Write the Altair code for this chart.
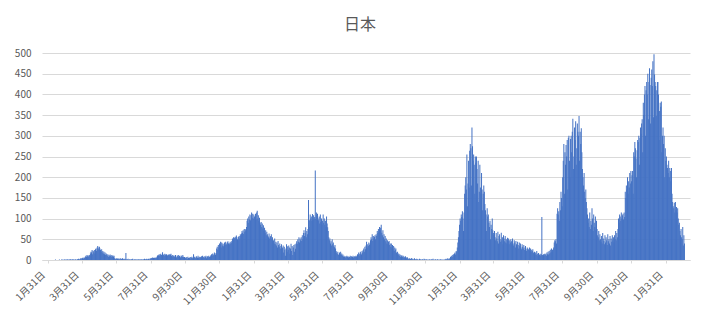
import altair as alt
import pandas as pd

# Daily deaths, Japan
jan2020 = [0, 0, 0]  # from Jan 29
feb2020 = [0,0,0,0,0,0,0,0,0,0, 0,0,1,0,0,0,0,0,0,1, 0,0,0,1,1,0,0,1,1]
mar2020 = [0,1,0,1,2,0,1,0,1,1, 2,0,1,2,0,1,1,0,2,1, 0,1,2,1,3,2,1,3,4,2, 5]
apr2020 = [4,6,3,5,6,8,10,7,12,9, 11,8,12,10,16,20,18,24,14,22, 19,24,16,26,28,22,30,34,26,30]
may2020 = [32,28,24,20,26,18,22,16,20,14, 18,12,16,13,10,14,8,12,9,13, 10,8,12,9,11,8,10,4,3,2, 4]
jun2020 = [2,3,4,2,3,1,4,2,3,2, 4,3,2,1,3,2,17,1,2,1, 3,0,1,2,1,0,2,1,3,1]
jul2020 = [0,1,2,1,0,1,2,0,1,2, 1,0,1,2,1,0,2,1,1,3, 2,1,2,3,1,2,3,2,1,4, 3]
aug2020 = [4,5,6,4,5,6,5,4,6,5, 8,10,12,11,14,10,13,15,12,11, 19,14,12,10,15,13,11,14,12,10, 13]
sep2020 = [12,14,11,13,15,10,8,12,9,11, 7,10,12,8,6,11,9,12,7,10, 8,6,11,9,7,12,8,5,7,4]
oct2020 = [6,4,7,3,8,5,4,6,3,7, 5,8,4,6,14,5,8,6,4,9, 7,5,10,6,4,8,7,5,9,6, 10]
nov2020 = [6,8,5,9,7,10,4,8,9,6, 10,7,8,9,12,14,10,16,13,11, 18,15,12,17,28,32,25,36,30,40]
dec2020 = [38,44,30,42,35,40,33,38,42,36, 44,40,37,43,45,39,41,38,44,40, 42,46,52,48,55,50,54,56,52,59, 55]
jan2021 = [50,48,56,58,52,62,59,64,70,66, 72,63,75,68,74,70,80,95,100,90, 105,98,110,96,108,115,102,112,100,110, 104]
feb2021 = [106,112,98,115,119,100,108,95,102,90, 85,92,80,88,76,84,70,78,65,72, 60,68,62,58,55,64,52,56]
mar2021 = [58,62,50,55,45,48,40,52,38,44, 35,42,30,46,36,32,40,28,34,38, 27,30,35,18,32,25,10,28,38,20, 33]
apr2021 = [25,35,30,15,28,39,22,34,12,30, 36,20,38,27,40,45,39,50,44,55, 42,52,48,55,46,60,50,65,72,58]
may2021 = [65,79,55,70,62,75,145,80,96,110, 100,105,95,111,98,108,100,104,216,99, 115,108,112,100,96,105,88,110,92,100, 85]
jun2021 = [95,110,90,100,85,95,80,105,88,79, 70,55,48,52,40,45,35,50,38,42, 33,31,36,28,22,18,15,20,12,14]
jul2021 = [18,14,20,12,16,10,13,8,10,7, 9,6,8,10,7,9,6,8,7,10, 6,9,8,7,10,6,8,9,7,10, 8]
aug2021 = [10,14,12,18,15,11,20,16,13,22, 18,24,28,20,32,26,35,44,30,38, 34,42,36,40,48,55,50,62,46,58, 52]
sep2021 = [56,60,50,62,58,70,65,75,68,80, 72,78,85,66,60,72,55,62,50,58, 45,52,40,48,38,44,46,36,40,32]
oct2021 = [40,30,36,26,34,22,30,25,28,18, 15,20,12,16,10,14,8,12,9,11, 7,10,6,8,5,9,6,4,7,5, 3]
nov2021 = [2,4,1,3,2,5,1,3,2,0, 4,1,2,0,3,1,2,0,1,3, 0,2,1,0,2,1,0,3,1,2]
dec2021 = [0,1,2,0,1,0,2,1,0,1, 2,0,1,3,0,1,0,2,1,0, 1,2,0,1,0,1,2,0,1,0, 1]
jan2022 = [0,1,0,2,1,3,1,2,4,1, 3,2,5,8,6,10,7,12,14,9, 16,18,13,22,20,30,42,55,70,85, 100]
feb2022 = [95,110,104,118,100,70,115,160,180,200, 170,255,130,185,240,175,264,280,270,180, 320,275,240,255,230,160,250,235]
mar2022 = [250,220,185,240,140,165,230,175,160,210, 170,120,160,180,165,135,120,110,70,125, 105,110,90,80,95,50,85,75,100,72, 65]
apr2022 = [60,70,55,48,65,52,45,68,40,58, 62,50,44,66,48,55,38,60,52,45, 58,42,50,40,54,46,52,38,48,42]
may2022 = [50,45,38,52,40,35,48,42,30,46, 38,32,44,36,28,42,34,40,30,26, 38,32,28,36,24,30,34,26,22,30, 28]
jun2022 = [26,24,30,22,28,20,25,22,26,18, 16,20,14,18,12,22,15,10,17,13, 12,15,11,14,104,12,10,14,11,15]
jul2022 = [12,15,10,18,14,20,13,22,16,25, 18,28,20,24,26,30,42,48,45,50, 40,112,125,110,118,95,140,120,165,150, 130]
aug2022 = [200,240,280,160,260,230,278,250,290,170, 295,300,240,200,292,300,260,310,341,220, 250,320,290,335,230,270,330,310,300,348, 240]
sep2022 = [310,280,318,260,220,200,180,210,165,150, 170,140,125,110,90,100,80,115,75,95, 85,125,100,70,110,90,80,105,72,95]
oct2022 = [75,60,55,70,48,62,50,44,58,40, 65,52,46,38,60,42,55,48,36,62, 45,50,40,58,35,52,44,60,48,55, 42]
nov2022 = [60,50,70,48,65,55,75,100,90,110, 105,95,115,100,108,112,98,115,104,165, 150,180,170,200,160,190,175,210,185,215]
dec2022 = [190,205,215,160,260,250,285,270,245,200, 265,290,285,300,230,295,320,305,330,340, 260,380,350,400,420,300,410,430,400,450, 340]
jan2023 = [430,463,423,330,440,460,420,480,345,497, 448,430,420,348,410,430,430,400,290,360, 380,370,383,260,300,320,280,300,200,270, 240]
feb2023 = [250,230,222,210,240,200,222,215,190,222, 160,140,130,125,138,115,140,120,128,115, 125,100,85,90,70,60,75,55]
mar2023 = [50,80,35,60,40]

month_blocks = [
    ("2020-01-29", jan2020), ("2020-02-01", feb2020), ("2020-03-01", mar2020),
    ("2020-04-01", apr2020), ("2020-05-01", may2020), ("2020-06-01", jun2020),
    ("2020-07-01", jul2020), ("2020-08-01", aug2020), ("2020-09-01", sep2020),
    ("2020-10-01", oct2020), ("2020-11-01", nov2020), ("2020-12-01", dec2020),
    ("2021-01-01", jan2021), ("2021-02-01", feb2021), ("2021-03-01", mar2021),
    ("2021-04-01", apr2021), ("2021-05-01", may2021), ("2021-06-01", jun2021),
    ("2021-07-01", jul2021), ("2021-08-01", aug2021), ("2021-09-01", sep2021),
    ("2021-10-01", oct2021), ("2021-11-01", nov2021), ("2021-12-01", dec2021),
    ("2022-01-01", jan2022), ("2022-02-01", feb2022), ("2022-03-01", mar2022),
    ("2022-04-01", apr2022), ("2022-05-01", may2022), ("2022-06-01", jun2022),
    ("2022-07-01", jul2022), ("2022-08-01", aug2022), ("2022-09-01", sep2022),
    ("2022-10-01", oct2022), ("2022-11-01", nov2022), ("2022-12-01", dec2022),
    ("2023-01-01", jan2023), ("2023-02-01", feb2023), ("2023-03-01", mar2023),
]

tick_dates = [
    "2020-01-31", "2020-03-31", "2020-05-31", "2020-07-31", "2020-09-30", "2020-11-30",
    "2021-01-31", "2021-03-31", "2021-05-31", "2021-07-31", "2021-09-30", "2021-11-30",
    "2022-01-31", "2022-03-31", "2022-05-31", "2022-07-31", "2022-09-30", "2022-11-30",
    "2023-01-31",
]
y_ticks = [0, 50, 100, 150, 200, 250, 300, 350, 400, 450, 500]
title_text = "日本"

rows = []
for start, vals in month_blocks:
    s = pd.Timestamp(start)
    for i, v in enumerate(vals):
        rows.append({"date": (s + pd.Timedelta(days=i)).strftime("%Y-%m-%d"), "deaths": v})
df = pd.DataFrame(rows)


def ms(s):
    return int(pd.Timestamp(s, tz="UTC").timestamp() * 1000)


tick_ms = [ms(d) for d in tick_dates]
domain_ms = [ms("2020-01-29"), ms("2023-03-06")]

FONT = "Noto Sans CJK JP"
GREY = "#595959"
LINE = "#D9D9D9"

chart = (
    alt.Chart(df)
    .mark_bar(size=1, color="#4472C4")
    .encode(
        x=alt.X(
            "date:T",
            scale=alt.Scale(type="utc", domain=domain_ms, nice=False),
            axis=alt.Axis(
                values=tick_ms,
                labelExpr="(utcmonth(datum.value)+1) + '月' + utcdate(datum.value) + '日'",
                labelAngle=315,
                labelAlign="right",
                labelBaseline="middle",
                labelPadding=10,
                labelOffset=-5,
                labelFont=FONT,
                labelFontSize=10,
                labelColor=GREY,
                labelOverlap=False,
                labelFlush=False,
                tickColor=LINE,
                tickSize=3,
                domainColor=LINE,
                grid=False,
                title=None,
            ),
        ),
        y=alt.Y(
            "deaths:Q",
            scale=alt.Scale(domain=[0, 500], nice=False),
            axis=alt.Axis(
                values=y_ticks,
                labelFont=FONT,
                labelFontSize=10,
                labelColor=GREY,
                labelPadding=11,
                domain=False,
                ticks=False,
                gridColor=LINE,
                title=None,
            ),
        ),
    )
    .properties(
        width=648,
        height=207,
        title=alt.TitleParams(
            title_text, fontSize=16, color=GREY, font=FONT, fontWeight="normal",
            offset=15, dx=-6, anchor="middle",
        ),
        autosize=alt.AutoSizeParams(type="none"),
        padding={"left": 42, "top": 53, "right": 32, "bottom": 62},
        background="white",
    )
    .configure_view(strokeWidth=0)
)

chart.save("out.html", embed_options={"renderer": "svg", "actions": False})
